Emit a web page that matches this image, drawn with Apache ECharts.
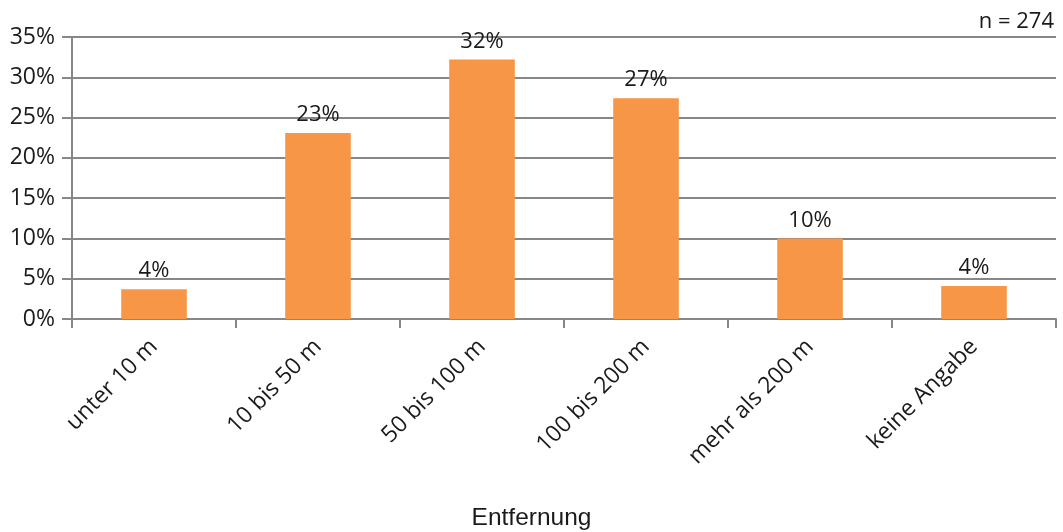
<!DOCTYPE html>
<html>
<head>
<meta charset="utf-8">
<script src="https://cdn.jsdelivr.net/npm/echarts@6/dist/echarts.min.js"></script>
<style>
  html, body { margin: 0; padding: 0; background: #fff; }
  #chart { width: 1063px; height: 532px; }
</style>
</head>
<body>
<div id="chart"></div>
<script>
// Distance categories and share of responses (%)
const categories = ['unter 10 m', '10 bis 50 m', '50 bis 100 m', '100 bis 200 m', 'mehr als 200 m', 'keine Angabe'];
const shares = [3.7, 23.1, 32.2, 27.4, 10.0, 4.1];
const yTicks = [0, 5, 10, 15, 20, 25, 30, 35];

const FONT = '"Open Sans", "Noto Sans", sans-serif';
const GRAY = '#878787';
const TEXT = '#1a1a1a';

const chart = echarts.init(document.getElementById('chart'));
chart.setOption({
  animation: false,
  textStyle: { fontFamily: FONT },
  grid: { left: 72, right: 7, top: 37, bottom: 213 },
  title: [
    {
      text: 'n = 274',
      right: 4, top: 6,
      textStyle: { fontFamily: FONT, fontSize: 22, fontWeight: 'normal', color: TEXT }
    },
    {
      text: 'Entfernung',
      left: 'center', top: 501,
      textStyle: { fontFamily: '"Liberation Sans", Arial, sans-serif', fontSize: 24.5, fontWeight: 'normal', color: TEXT }
    }
  ],
  xAxis: {
    type: 'category',
    data: categories,
    axisLine: { lineStyle: { color: GRAY, width: 2 } },
    axisTick: { show: true, length: 9, lineStyle: { color: GRAY, width: 2 } },
    axisLabel: {
      rotate: 45, margin: 24,
      fontFamily: FONT, fontSize: 23, color: TEXT
    }
  },
  yAxis: {
    type: 'value',
    min: yTicks[0],
    max: yTicks[yTicks.length - 1],
    interval: 5,
    axisLine: { show: true, lineStyle: { color: GRAY, width: 2 } },
    axisTick: { show: true, length: 10, lineStyle: { color: GRAY, width: 2 } },
    splitLine: { show: true, lineStyle: { color: GRAY, width: 2 } },
    axisLabel: {
      margin: 17,
      fontFamily: FONT, fontSize: 23, color: TEXT,
      formatter: v => v + '%'
    }
  },
  series: [
    {
      type: 'bar',
      data: shares,
      barWidth: '40%',
      itemStyle: { color: '#F79646' },
      label: {
        show: true,
        position: 'top',
        distance: 7,
        fontFamily: FONT, fontSize: 22, color: TEXT,
        formatter: p => Math.round(p.value) + '%'
      }
    }
  ]
});
</script>
</body>
</html>
